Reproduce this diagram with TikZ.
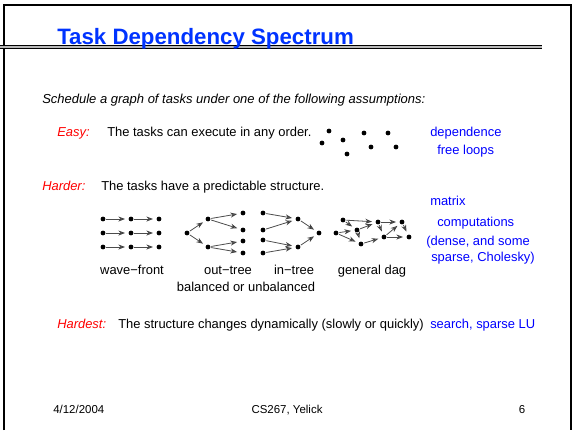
\documentclass[tikz,border=0pt]{standalone}
\usepackage{fontspec}
\setmainfont{Liberation Sans}
\usetikzlibrary{arrows.meta}
\definecolor{titleblue}{RGB}{0,51,255}
\definecolor{noteblue}{RGB}{0,0,255}
\definecolor{cuered}{RGB}{255,0,0}
\tikzset{
  >={Stealth[length=5pt,width=3.8pt,fill=gray!55,color=black!75]},
  txt/.style={anchor=base west,inner sep=0pt,font=\fontsize{9.7}{12}\selectfont},
  cue/.style={txt,text=cuered,font=\fontsize{9.7}{12}\selectfont\itshape},
  note/.style={txt,text=noteblue},
  lbl/.style={anchor=base,inner sep=0pt,font=\fontsize{9.7}{12}\selectfont},
  foot/.style={anchor=base,inner sep=0pt,font=\fontsize{8.6}{10}\selectfont},
  taskdot/.style={circle,fill=black,inner sep=0pt,minimum size=3.6pt},
  dep/.style={->,draw=black!70,line width=0.6pt,shorten >=2.5pt,shorten <=0.5pt},
}
\begin{document}
\begin{tikzpicture}[x=0.75pt,y=-0.75pt]
  \useasboundingbox (0,0) rectangle (573,430);
  % slide frame and title rule
  \draw[line width=1.5pt] (3.5,430) -- (3.5,5) -- (571,5) -- (571,430);
  \draw[line width=2.4pt] (0,47) -- (542,47);
  \draw[gray!55,line width=0.8pt] (0,47) -- (542,47);
  \node[anchor=base west,inner sep=0pt,text=titleblue,font=\fontsize{16.7}{20}\selectfont\bfseries] (title) at (57,44) {Task Dependency Spectrum};
  \node[txt,font=\fontsize{9.75}{12}\selectfont\itshape] (sched) at (42,103) {Schedule a graph of tasks under one of the following assumptions:};
  % easy
  \node[cue] (easy) at (57,136) {Easy:};
  \node[txt] (easytxt) at (107,136) {The tasks can execute in any order.};
  \foreach \x/\y [count=\i] in {329/131,322/143,343/140,347/154,364/133,371/147,388/133,396/147}
    \node[taskdot] (e\i) at (\x,\y) {};
  \node[note] (dep1) at (430,136) {dependence};
  \node[note] (dep2) at (437,154) {free loops};
  % harder
  \node[cue] (harder) at (42,190) {Harder:};
  \node[txt] (hardtxt) at (101,190) {The tasks have a predictable structure.};
  \node[note] (mat1) at (430,205) {matrix};
  \node[note] (mat2) at (437,226) {computations};
  \node[note] (mat3) at (426,245) {(dense, and some};
  \node[note] (mat4) at (431,261) {sparse, Cholesky)};
  % wave-front
  \foreach \c/\x in {1/103,2/131,3/159} \foreach \r/\y in {1/219,2/233,3/247}
    \node[taskdot] (w\r\c) at (\x,\y) {};
  \foreach \r in {1,2,3} \foreach \a/\b in {1/2,2/3} \draw[dep] (w\r\a) -- (w\r\b);
  % out-tree
  \node[taskdot] (o0) at (187,233) {};
  \node[taskdot] (o1) at (208,219) {};
  \node[taskdot] (o2) at (208,247) {};
  \node[taskdot] (o11) at (243,213) {};
  \node[taskdot] (o12) at (243,230) {};
  \node[taskdot] (o21) at (243,241) {};
  \node[taskdot] (o22) at (243,253) {};
  \foreach \a/\b in {0/1,0/2,1/11,1/12,2/21,2/22} \draw[dep] (o\a) -- (o\b);
  % in-tree
  \node[taskdot] (i11) at (263,213) {};
  \node[taskdot] (i12) at (263,230) {};
  \node[taskdot] (i21) at (263,240) {};
  \node[taskdot] (i22) at (263,253) {};
  \node[taskdot] (i1) at (298,219) {};
  \node[taskdot] (i2) at (298,247) {};
  \node[taskdot] (i0) at (319,233) {};
  \foreach \a/\b in {11/1,12/1,21/2,22/2,1/0,2/0} \draw[dep] (i\a) -- (i\b);
  % general dag
  \foreach \n/\x/\y in {a/343/220,b/336/233,c/357/230,d/361/244,e/378/222,f/402/222,g/384/237,h/409/237}
    \node[taskdot] (g\n) at (\x,\y) {};
  \foreach \a/\b in {a/e,a/c,b/c,b/d,c/e,c/d,d/g,e/f,e/g,g/f,g/h,f/h} \draw[dep] (g\a) -- (g\b);
  \node[lbl] (wave) at (132,274) {wave−front};
  \node[lbl] (out) at (228,274) {out−tree};
  \node[lbl] (in) at (294,274) {in−tree};
  \node[lbl] (dag) at (372,274) {general dag};
  \node[lbl] (bal) at (246,291) {balanced or unbalanced};
  % hardest
  \node[cue] (hardest) at (57,328) {Hardest:};
  \node[txt] (hardesttxt) at (118,328) {The structure changes dynamically (slowly or quickly)};
  \node[note] (search) at (430,328) {search, sparse LU};
  % footer
  \node[foot,anchor=base west] (date) at (53,413) {4/12/2004};
  \node[foot] (course) at (287,413) {CS267, Yelick};
  \node[foot] (page) at (522,413) {6};
\end{tikzpicture}
\end{document}
